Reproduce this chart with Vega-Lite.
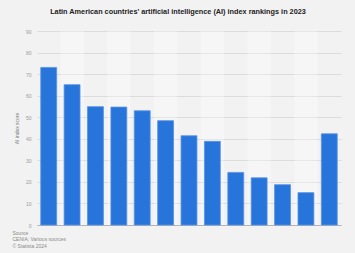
{
  "$schema": "https://vega.github.io/schema/vega-lite/v6.json",
  "width": 304,
  "height": 194,
  "autosize": "none",
  "padding": {"left": 37, "top": 31, "right": 14, "bottom": 28},
  "background": "#f2f2f2",
  "config": {
    "font": "Liberation Sans",
    "view": {"stroke": null},
    "axisY": {
      "tickCount": 9,
      "labelOverlap": false,
      "domain": false,
      "ticks": false,
      "labelPadding": 6,
      "labelFontSize": 5,
      "labelColor": "#9a9a9a",
      "grid": true,
      "gridColor": "#dcdcdc",
      "gridWidth": 1,
      "titleFontSize": 5,
      "titleFontWeight": "normal",
      "titleColor": "#7a7a7a",
      "titlePadding": 6
    }
  },
  "title": {
    "text": "Latin American countries' artificial intelligence (AI) index rankings in 2023",
    "fontSize": 7.3,
    "fontWeight": "bold",
    "color": "#222222",
    "anchor": "middle",
    "dx": -11,
    "offset": 14
  },
  "data": {
    "values": [
      {"country": "Chile", "score": 73.1},
      {"country": "Brazil", "score": 65.1},
      {"country": "Uruguay", "score": 54.9},
      {"country": "Argentina", "score": 54.7},
      {"country": "Colombia", "score": 53.0},
      {"country": "Mexico", "score": 48.4},
      {"country": "Peru", "score": 41.4},
      {"country": "Costa Rica", "score": 38.8},
      {"country": "Ecuador", "score": 24.4},
      {"country": "Panama", "score": 21.9},
      {"country": "Paraguay", "score": 18.7},
      {"country": "Bolivia", "score": 15.0},
      {"country": "Average", "score": 42.3}
    ]
  },
  "transform": [
    {"window": [{"op": "row_number", "as": "idx"}]}
  ],
  "encoding": {
    "x": {
      "field": "country",
      "type": "nominal",
      "sort": null,
      "scale": {"paddingInner": 0.32, "paddingOuter": 0.16},
      "axis": {
        "labels": false,
        "ticks": false,
        "domainColor": "#b3b3b3",
        "domainWidth": 1,
        "title": ["Source", "CENIA; Various sources", "© Statista 2024"],
        "titleFontSize": 5,
        "titleFontWeight": "normal",
        "titleColor": "#8a8a8a",
        "titleAnchor": "start",
        "titleAlign": "left",
        "titleBaseline": "top",
        "titleX": -25,
        "titleY": 5,
        "titleLineHeight": 6.5
      }
    }
  },
  "layer": [
    {
      "mark": {"type": "bar", "width": {"band": 1.4706}, "fill": "#ffffff"},
      "encoding": {
        "y": {
          "datum": 90,
          "type": "quantitative",
          "scale": {"domain": [0, 90], "nice": false},
          "title": "AI index score"
        },
        "y2": {"datum": 0},
        "opacity": {"condition": {"test": "datum.idx % 2 == 0", "value": 0.3}, "value": 0}
      }
    },
    {
      "mark": {"type": "bar", "color": "#2775db", "stroke": "#5592e4", "strokeWidth": 0.8},
      "encoding": {
        "y": {"field": "score", "type": "quantitative", "title": "AI index score"}
      }
    }
  ]
}
